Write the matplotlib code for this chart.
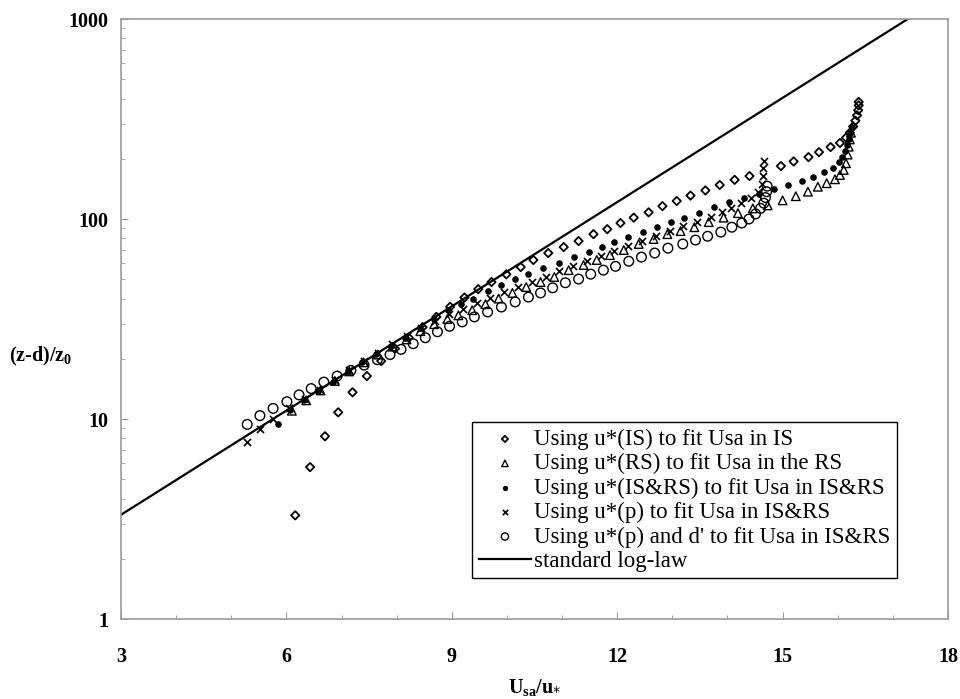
import matplotlib
matplotlib.use("Agg")
import matplotlib.pyplot as plt
from matplotlib.ticker import FixedLocator, NullFormatter, LogLocator

# u*(IS) fitted in IS  (diamonds)
is_x = [6.16, 6.43, 6.70, 6.94, 7.20, 7.46, 7.72, 7.97, 8.22, 8.47, 8.72, 8.97,
        9.23, 9.48, 9.72, 9.99, 10.25, 10.48, 10.75, 11.03, 11.30, 11.57, 11.82,
        12.06, 12.30, 12.57, 12.82, 13.08, 13.33, 13.60, 13.86, 14.13, 14.40,
        14.97, 15.20, 15.47, 15.66, 15.87, 16.04, 16.15, 16.22, 16.28, 16.32,
        16.35, 16.37, 16.38, 16.38]
is_y = [3.3, 5.75, 8.2, 10.8, 13.6, 16.4, 19.5, 22.5, 25.5, 28.8, 32.4, 36.4,
        40.5, 44.6, 48.4, 52.9, 57.5, 62.4, 67.6, 72.4, 77.6, 84, 89,
        95.5, 101.6, 108, 116, 123, 131, 139, 148, 157, 164,
        184, 194, 204, 216, 229, 240, 255, 270, 290, 310,
        330, 350, 370, 385]

# u*(RS) fitted in RS  (triangles)
rs_x = [6.10, 6.36, 6.62, 6.88, 7.14, 7.40, 7.66, 7.92, 8.18, 8.43, 8.68, 8.92,
        9.12, 9.37, 9.61, 9.85, 10.10, 10.35, 10.61, 10.86, 11.12, 11.39, 11.63,
        11.87, 12.12, 12.39, 12.66, 12.91, 13.15, 13.40, 13.66, 13.93, 14.19,
        14.46, 14.73, 15.00, 15.24, 15.46, 15.64, 15.80, 15.95, 16.04, 16.11,
        16.15, 16.18, 16.20, 16.22, 16.24]
rs_y = [11.0, 12.4, 13.9, 15.5, 17.3, 19.2, 21.0, 23.0, 25.0, 27.5, 29.8, 31.6,
        33.0, 35.0, 37.5, 40.0, 42.7, 45.7, 48.4, 51.3, 55.5, 58.9, 62.4,
        66.0, 70.0, 75.0, 79.4, 84.0, 87.0, 91.0, 96.5, 101.6, 107,
        113, 117, 124, 130, 137, 145, 151, 158, 166, 176,
        190, 210, 230, 250, 270]

# u*(IS&RS) fitted in IS&RS  (dots)
isrs_x = [5.85, 6.07, 6.32, 6.58, 6.85, 7.11, 7.37, 7.63, 7.89, 8.15, 8.42, 8.68,
          8.94, 9.16, 9.39, 9.65, 9.90, 10.15, 10.39, 10.66, 10.94, 11.21, 11.48,
          11.72, 11.95, 12.20, 12.46, 12.72, 12.97, 13.22, 13.48, 13.75, 14.02,
          14.30, 14.57, 14.84, 15.09, 15.36, 15.55, 15.75, 15.91, 16.02, 16.08,
          16.13, 16.17, 16.20, 16.23, 16.26]
isrs_y = [9.4, 11.1, 12.4, 13.8, 15.4, 17.2, 19.2, 21.2, 23.3, 25.5, 28.5, 31.8,
          35.0, 37.5, 40.0, 43.6, 46.8, 50.0, 53.0, 57.0, 60.0, 64.5, 68.4,
          72.4, 76.7, 81.0, 86.0, 91.0, 96.5, 101.6, 107, 115, 121,
          127, 134, 141, 148, 155, 162, 171, 180, 192, 205,
          220, 235, 250, 270, 290]

# u*(p) fitted in IS&RS  (crosses)
p_x = [5.29, 5.52, 5.76, 6.05, 6.34, 6.61, 6.88, 7.14, 7.40, 7.66, 7.92, 8.18,
       8.44, 8.70, 8.95, 9.20, 9.45, 9.70, 9.95, 10.20, 10.45, 10.70, 10.95,
       11.20, 11.45, 11.70, 11.95, 12.20, 12.45, 12.70, 12.95, 13.20, 13.45,
       13.70, 13.91, 14.06, 14.24, 14.42, 14.55, 14.62, 14.64, 14.65, 14.66]
p_y = [7.7, 8.9, 10.0, 11.3, 12.6, 14.0, 15.7, 17.5, 19.5, 21.5, 23.6, 26.0,
       28.5, 31.0, 33.5, 35.5, 38.0, 40.5, 43.0, 45.5, 48.5, 51.5, 55.0,
       58.5, 62.0, 65.5, 69.5, 73.5, 78.0, 82.5, 87.0, 92.0, 97.0,
       102, 108, 113, 120, 128, 137, 150, 165, 180, 195]

# u*(p) and d' fitted in IS&RS  (open circles)
pd_x = [5.29, 5.52, 5.76, 6.01, 6.23, 6.45, 6.68, 6.92, 7.17, 7.41, 7.65, 7.88,
        8.08, 8.30, 8.52, 8.74, 8.96, 9.19, 9.41, 9.65, 9.90, 10.15, 10.39,
        10.61, 10.83, 11.06, 11.30, 11.52, 11.75, 11.97, 12.21, 12.44, 12.68,
        12.92, 13.19, 13.42, 13.64, 13.88, 14.08, 14.26, 14.39, 14.51, 14.60,
        14.66, 14.69, 14.71, 14.72]
pd_y = [9.4, 10.4, 11.3, 12.2, 13.2, 14.2, 15.3, 16.4, 17.5, 18.6, 19.8, 21.0,
        22.3, 23.8, 25.5, 27.3, 29.1, 30.6, 32.4, 34.3, 36.3, 38.5, 40.7,
        42.7, 45.3, 48.0, 50.1, 53.0, 55.5, 58.0, 61.5, 64.5, 67.6,
        71.5, 75.0, 78.5, 82.0, 86.0, 91.0, 95.5, 100, 106, 113,
        120, 128, 137, 146]

# standard log-law, U/u* = ln((z-d)/z0) / 0.4
loglaw_x = [3.0, 17.27]
loglaw_y = [3.32, 1000]

labels = [
    "Using u*(IS) to fit Usa in IS",
    "Using u*(RS) to fit Usa in the RS",
    "Using u*(IS&RS) to fit Usa in IS&RS",
    "Using u*(p) to fit Usa in IS&RS",
    "Using u*(p) and d' to fit Usa in IS&RS",
    "standard log-law",
]

plt.rcParams['font.family'] = ['Liberation Serif', 'DejaVu Serif']

fig = plt.figure(figsize=(9.6, 6.99), dpi=100)
ax = fig.add_axes([0.126, 0.1144, 0.8615, 0.8584])

ax.scatter(is_x, is_y, marker="D", s=18, facecolors="none", edgecolors="black",
           linewidths=1.3, label=labels[0], zorder=3)
ax.scatter(rs_x, rs_y, marker="^", s=38, facecolors="none", edgecolors="black",
           linewidths=1.0, label=labels[1], zorder=3)
ax.scatter(isrs_x, isrs_y, marker="o", s=14, color="black", label=labels[2], zorder=3)
ax.scatter(p_x, p_y, marker="x", s=26, color="black", linewidths=1.2,
           label=labels[3], zorder=3)
ax.scatter(pd_x, pd_y, marker="o", s=48, facecolors="none", edgecolors="black",
           linewidths=1.0, label=labels[4], zorder=3)
ax.plot(loglaw_x, loglaw_y, color="black", lw=1.6, label=labels[5], zorder=2)

ax.set_yscale("log")
ax.set_xlim(3, 18)
ax.set_ylim(1, 1000)
ax.set_xticks([3, 6, 9, 12, 15, 18])
ax.xaxis.set_minor_locator(FixedLocator(range(3, 19)))
ax.yaxis.set_minor_locator(LogLocator(base=10, subs=range(2, 10)))
ax.yaxis.set_minor_formatter(NullFormatter())
ax.set_yticks([1, 10, 100, 1000])
ax.set_yticklabels(["1", "10", "100", "1000"])

ax.tick_params(which="both", direction="in", color="#999999")
ax.tick_params(axis="x", which="major", length=5, pad=20, labelsize=14.5)
ax.tick_params(axis="y", which="major", length=5, pad=9, labelsize=14.5)
ax.tick_params(which="minor", length=3)
for lab in ax.get_xticklabels() + ax.get_yticklabels():
    lab.set_fontweight("bold")
for sp in ax.spines.values():
    sp.set_color("#999999")
    sp.set_linewidth(1.2)

fig.text(0.557, 0.0, r"U$_{\mathregular{sa}}$/u$_{*}$", ha="center", va="bottom",
         fontsize=14.5, fontweight="bold")
fig.text(0.042, 0.49, r"(z-d)/z$_{\mathregular{0}}$", ha="center", va="center",
         fontsize=14.5, fontweight="bold")

leg = ax.legend(loc="lower right", bbox_to_anchor=(0.938, 0.068), fontsize=16.5,
                frameon=True, fancybox=False, edgecolor="black", framealpha=1,
                handlelength=2.3, handletextpad=0.12, labelspacing=0.14,
                borderpad=0.28, borderaxespad=0, scatterpoints=1, markerscale=0.75)
leg.get_frame().set_linewidth(1.0)

fig.savefig("out.png", dpi=100)
